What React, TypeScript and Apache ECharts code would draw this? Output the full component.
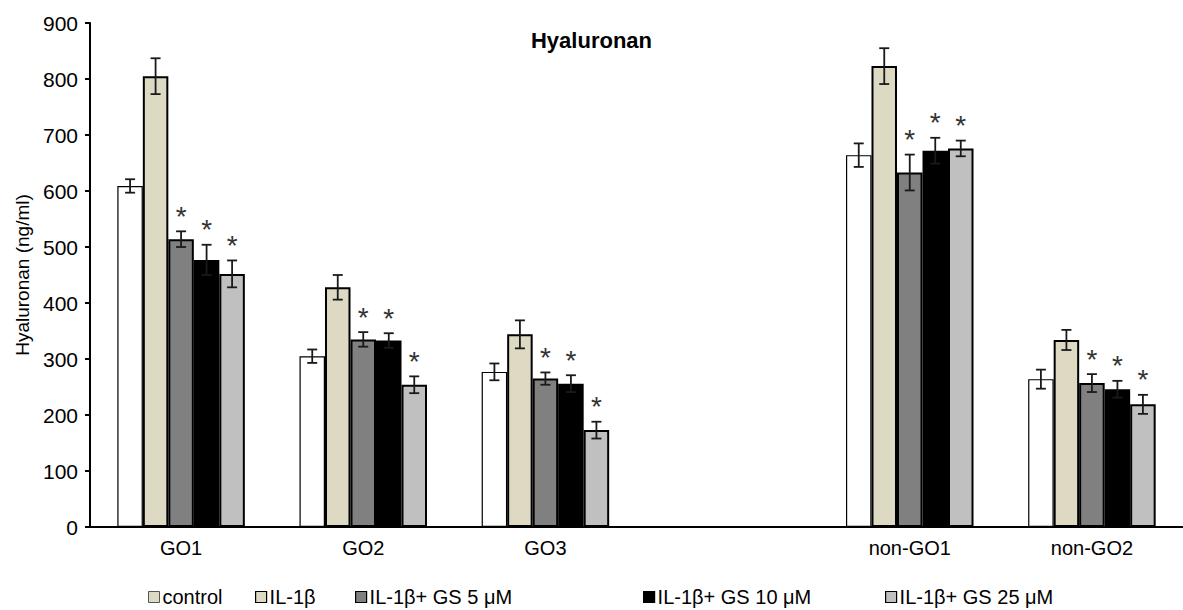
import React, { useEffect, useRef } from "react";
import * as echarts from "echarts";

const categories = ["GO1", "GO2", "GO3", "", "non-GO1", "non-GO2"];
const seriesNames = [
  "control",
  "IL-1β",
  "IL-1β+ GS 5 μM",
  "IL-1β+ GS 10 μM",
  "IL-1β+ GS 25 μM",
];
const controlValues = [609, 305, 277, null, 664, 264];
const il1bValues = [805, 428, 344, null, 823, 334];
const gs5Values = [514, 335, 265, null, 633, 257];
const gs10Values = [477, 333, 256, null, 672, 246];
const gs25Values = [452, 254, 173, null, 676, 219];

const controlErr = [12, 12, 15, null, 21, 17];
const il1bErr = [32, 22, 25, null, 32, 18];
const gs5Err = [14, 13, 11, null, 32, 16];
const gs10Err = [27, 13, 15, null, 23, 15];
const gs25Err = [24, 15, 15, null, 14, 17];

const controlSig = [0, 0, 0, 0, 0, 0];
const il1bSig = [0, 0, 0, 0, 0, 0];
const gs5Sig = [1, 1, 1, 0, 1, 1];
const gs10Sig = [1, 1, 1, 0, 1, 1];
const gs25Sig = [1, 1, 1, 0, 1, 1];

const yTicks = { min: 0, max: 900, interval: 100 };

const FONT = "Liberation Sans, Arial, Helvetica, sans-serif";

export default function App() {
  const ref = useRef<HTMLDivElement>(null);

  useEffect(() => {
    if (!ref.current) return;
    const chart = echarts.init(ref.current, undefined, { renderer: "svg" });

    const values = [controlValues, il1bValues, gs5Values, gs10Values, gs25Values];
    const errs = [controlErr, il1bErr, gs5Err, gs10Err, gs25Err];
    const sigs = [controlSig, il1bSig, gs5Sig, gs10Sig, gs25Sig];
    const fills = ["#ffffff", "#ddd9c3", "#808080", "#000000", "#c0c0c0"];
    const borderW = [1.2, 2, 2, 2, 2];

    const errData: any[] = [];
    values.forEach((arr, s) => {
      arr.forEach((v, c) => {
        const e = errs[s][c];
        if (v != null && e != null) errData.push([c, v, e, s, sigs[s][c]]);
      });
    });

    const barSeries = values.map((arr, s) => ({
      name: seriesNames[s],
      type: "bar",
      data: arr.map((v) => (v == null ? "-" : v)),
      barGap: "0%",
      barCategoryGap: "30%",
      itemStyle: {
        color: fills[s],
        borderColor: "#000",
        borderWidth: borderW[s],
      },
      emphasis: { disabled: true },
    }));

    const legendLefts = [148, 255, 355, 643, 885];
    const legends = seriesNames.map((name, i) => ({
      data: [
        i === 0
          ? { name, itemStyle: { color: "#ddd9c3", borderColor: "#555", borderWidth: 1 } }
          : { name, itemStyle: { borderWidth: 1.2 } },
      ],
      left: legendLefts[i],
      top: 587,
      icon: "rect",
      itemWidth: 11,
      itemHeight: 11,
      padding: 0,
      selectedMode: false,
      textStyle: { fontFamily: FONT, fontSize: 20, color: "#000", padding: [0, 0, 0, -2] },
    }));

    chart.setOption({
      animation: false,
      title: {
        text: "Hyaluronan",
        left: "center",
        top: 24,
        textStyle: { fontFamily: FONT, fontSize: 22, fontWeight: "bold", color: "#000" },
      },
      legend: legends,
      grid: { left: 90, top: 23, width: 1106, height: 504, containLabel: false },
      xAxis: {
        type: "category",
        data: categories,
        axisLine: { lineStyle: { color: "#000", width: 2 } },
        axisTick: { show: false },
        axisLabel: { fontFamily: FONT, fontSize: 20, color: "#000", margin: 11 },
      },
      yAxis: {
        type: "value",
        min: yTicks.min,
        max: yTicks.max,
        interval: yTicks.interval,
        name: "Hyaluronan (ng/ml)",
        nameLocation: "middle",
        nameGap: 58,
        nameTextStyle: { fontFamily: FONT, fontSize: 19, color: "#000" },
        axisLine: { show: true, lineStyle: { color: "#000", width: 2 } },
        axisTick: { show: true, length: 5, lineStyle: { color: "#000", width: 2 } },
        axisLabel: { fontFamily: FONT, fontSize: 21, color: "#000", margin: 12 },
        splitLine: { show: false },
      },
      series: [
        ...barSeries,
        {
          type: "custom",
          data: errData,
          z: 10,
          silent: true,
          renderItem: (params: any, api: any) => {
            const c = api.value(0);
            const v = api.value(1);
            const e = api.value(2);
            const s = api.value(3);
            const sig = api.value(4);
            const catW = api.size([1, 0])[0];
            const barW = (catW * 0.7) / 5;
            const x = api.coord([c, 0])[0] + (s - 2) * barW;
            const yTop = api.coord([c, v + e])[1];
            const yBot = api.coord([c, v - e])[1];
            const cap = 5;
            const ls = { stroke: "#1a1a1a", lineWidth: 1.8 };
            const children: any[] = [
              { type: "line", shape: { x1: x, y1: yTop, x2: x, y2: yBot }, style: ls },
              { type: "line", shape: { x1: x - cap, y1: yTop, x2: x + cap, y2: yTop }, style: ls },
              { type: "line", shape: { x1: x - cap, y1: yBot, x2: x + cap, y2: yBot }, style: ls },
            ];
            if (sig) {
              children.push({
                type: "text",
                x: x,
                y: yTop - 29,
                style: {
                  text: "*",
                  fontFamily: FONT,
                  fontSize: 28,
                  fill: "#333",
                  align: "center",
                  verticalAlign: "top",
                },
              });
            }
            return { type: "group", children };
          },
        },
      ],
    });

    return () => chart.dispose();
  }, []);

  return (
    <div
      ref={ref}
      style={{ position: "fixed", left: 0, top: 0, width: 1183, height: 610, background: "#fff" }}
    />
  );
}
